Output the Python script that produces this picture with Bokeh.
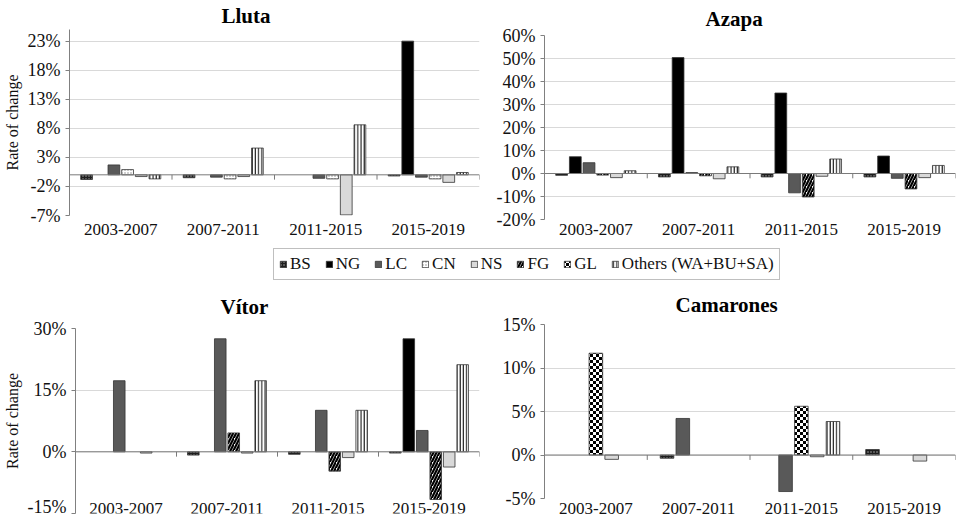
import base64
from bokeh.plotting import figure
from bokeh.layouts import column, row
from bokeh.models import (Range1d, FixedTicker, PrintfTickFormatter, Span,
                          Legend, LegendItem, ColumnDataSource, ImageURLTexture)
from bokeh.transform import dodge
from bokeh.core.properties import value
from bokeh.embed import file_html
from bokeh.resources import INLINE

# ---------------- data (rate of change, %) ----------------
periods = ["2003-2007", "2007-2011", "2011-2015", "2015-2019"]

legend_keys = ["BS", "NG", "LC", "CN", "NS", "FG", "GL", "Others"]
legend_labels = ["BS", "NG", "LC", "CN", "NS", "FG", "GL", "Others (WA+BU+SA)"]

# Lluta
lluta_series = ["BS", "NG", "LC", "CN", "NS", "Others"]
lluta_BS = [-0.8, -0.5, 0.0, -0.2]
lluta_NG = [0.0, 0.0, 0.0, 23.0]
lluta_LC = [1.7, -0.4, -0.6, -0.4]
lluta_CN = [0.9, -0.7, -0.7, -0.7]
lluta_NS = [-0.3, -0.3, -6.9, -1.3]
lluta_Others = [-0.7, 4.6, 8.6, 0.4]
lluta_ticks = [-7, -2, 3, 8, 13, 18, 23]
lluta_range = (-7, 25)

# Azapa
azapa_series = ["BS", "NG", "LC", "FG", "NS", "Others"]
azapa_BS = [-0.8, -1.5, -1.5, -1.5]
azapa_NG = [7.3, 50.4, 35.0, 7.6]
azapa_LC = [4.7, 0.4, -8.4, -2.1]
azapa_FG = [-0.7, -1.0, -10.2, -6.7]
azapa_NS = [-1.8, -2.3, -1.2, -1.8]
azapa_Others = [1.2, 2.9, 6.3, 3.5]
azapa_ticks = [-20, -10, 0, 10, 20, 30, 40, 50, 60]
azapa_range = (-20, 60)

# Vítor
vitor_series = ["BS", "NG", "LC", "FG", "NS", "Others"]
vitor_BS = [0.0, -0.8, -0.6, -0.3]
vitor_NG = [0.0, 0.0, 0.0, 27.5]
vitor_LC = [17.3, 27.5, 10.1, 5.2]
vitor_FG = [0.0, 4.6, -4.7, -11.6]
vitor_NS = [-0.3, -0.3, -1.4, -3.7]
vitor_Others = [0.0, 17.3, 10.1, 21.2]
vitor_ticks = [-15, 0, 15, 30]
vitor_range = (-15, 30)

# Camarones
cama_series = ["BS", "LC", "GL", "NS", "Others"]
cama_BS = [0.0, -0.37, 0.0, 0.63]
cama_LC = [0.0, 4.2, -4.2, 0.0]
cama_GL = [11.7, 0.0, 5.6, 0.0]
cama_NS = [-0.5, 0.0, -0.2, -0.7]
cama_Others = [0.0, 0.0, 3.85, 0.0]
cama_ticks = [-5, 0, 5, 10, 15]
cama_range = (-5, 15)

# ---------------- styles ----------------
SERIF = "Liberation Serif"

_checker_svg = ("<svg xmlns='http://www.w3.org/2000/svg' width='6' height='6' shape-rendering='crispEdges'>"
                "<rect width='6' height='6' fill='#ffffff'/>"
                "<rect width='3' height='3' fill='#000000'/>"
                "<rect x='3' y='3' width='3' height='3' fill='#000000'/></svg>")
checker = ImageURLTexture(url="data:image/svg+xml;base64," +
                          base64.b64encode(_checker_svg.encode()).decode())

STYLE = {
    "BS": dict(fill_color="#1e1e1e", hatch_pattern="dot", hatch_color="#b0b0b0", hatch_scale=3, hatch_weight=0.8),
    "NG": dict(fill_color="#000000"),
    "LC": dict(fill_color="#595959"),
    "CN": dict(fill_color="#ffffff", hatch_pattern="dot", hatch_color="#8a8a8a", hatch_scale=3, hatch_weight=1),
    "NS": dict(fill_color="#d9d9d9"),
    "FG": dict(fill_color="#ffffff", hatch_pattern="right_diagonal_line", hatch_color="#000000",
               hatch_scale=6, hatch_weight=2.2),
    "GL": dict(fill_color="#ffffff", hatch_pattern=value("checker"), hatch_extra={"checker": checker},
               hatch_color="#000000", hatch_scale=6),
    "Others": dict(fill_color="#ffffff", hatch_pattern="vertical_line", hatch_color="#000000",
                   hatch_scale=3.2, hatch_weight=1),
}
OUTLINE = dict(line_color="#333333", line_width=0.8)
AXIS_GREY = "#7a7a7a"

group_x = list(range(len(periods)))                       # group centres
group_edges = [g - 0.5 for g in group_x] + [group_x[-1] + 0.5]


def make_panel(title, names, values, yrange, yticks, w, h, mb_bottom, mb_right,
               title_offset, title_standoff, label_standoff, frame_h, ylabel=None,
               labels_inside=False):
    p = figure(width=w, height=h, x_range=Range1d(group_edges[0], group_edges[-1]),
               y_range=Range1d(*yrange),
               output_backend="svg", toolbar_location=None, tools="",
               min_border_left=62, min_border_top=0, min_border_bottom=mb_bottom,
               min_border_right=mb_right, outline_line_color=None, background_fill_color="white")
    n = len(names)
    slot = 1.0 / (n + 1.5)
    for i, (nm, vals) in enumerate(zip(names, values)):
        keep = [(g, v) for g, v in zip(group_x, vals) if v != 0]
        src = ColumnDataSource(dict(gx=[g for g, _ in keep], val=[v for _, v in keep]))
        off = (i - (n - 1) / 2) * slot
        p.vbar(x=dodge("gx", off), top="val", bottom=0, width=slot * 0.86,
               source=src, **OUTLINE, **STYLE[nm])

    # horizontal axis through zero with short ticks between the periods
    p.add_layout(Span(location=0, dimension="width", line_color=AXIS_GREY, line_width=1))
    tick = 5.0 * (yrange[1] - yrange[0]) / frame_h
    p.segment(x0=group_edges, x1=group_edges, y0=[0] * len(group_edges),
              y1=[-tick] * len(group_edges), line_color=AXIS_GREY, line_width=1)

    # title
    p.title.text = title
    p.title.text_font = SERIF
    p.title.text_font_style = "bold"
    p.title.text_font_size = "21px"
    p.title.text_color = "#000000"
    p.title.align = "left"
    p.title.offset = title_offset
    p.title.standoff = title_standoff

    # period labels
    xa = p.xaxis[0]
    xa.axis_label = None
    xa.ticker = FixedTicker(ticks=group_x)
    xa.major_label_overrides = {g: lab for g, lab in zip(group_x, periods)}
    xa.axis_line_color = None
    xa.major_tick_line_color = None
    xa.minor_tick_line_color = None
    xa.major_tick_in = 0
    xa.major_tick_out = 0
    xa.minor_tick_in = 0
    xa.minor_tick_out = 0
    xa.major_label_text_font = SERIF
    xa.major_label_text_font_size = "17px"
    xa.major_label_text_color = "#111111"
    xa.major_label_standoff = label_standoff
    if labels_inside:
        # the period labels sit on the bottom edge of the plot area, as in the original
        xa.visible = False
        lab_src = ColumnDataSource(dict(gx=group_x, gy=[yrange[0]] * len(group_x), t=periods))
        p.text(x="gx", y="gy", text="t", source=lab_src, text_font=value(SERIF),
               text_font_size=value("17px"), text_color="#111111", text_align="center",
               text_baseline="bottom")

    # y axis
    ya = p.yaxis[0]
    ya.ticker = FixedTicker(ticks=yticks)
    ya.formatter = PrintfTickFormatter(format="%d%%")
    ya.major_label_text_font = SERIF
    ya.major_label_text_font_size = "18px"
    ya.major_label_text_color = "#111111"
    ya.major_label_standoff = 5
    ya.axis_line_color = "#808080"
    ya.major_tick_line_color = "#808080"
    ya.major_tick_in = 0
    ya.major_tick_out = 4
    ya.minor_tick_line_color = None
    if ylabel:
        ya.axis_label = ylabel
        ya.axis_label_text_font = SERIF
        ya.axis_label_text_font_size = "16px"
        ya.axis_label_text_font_style = "normal"
        ya.axis_label_text_color = "#111111"
        ya.axis_label_standoff = 4
    else:
        ya.axis_label = None

    p.xgrid.visible = False
    p.ygrid.grid_line_color = "#d9d9d9"
    p.ygrid.grid_line_width = 1
    return p


p1 = make_panel("Lluta", lluta_series,
                [lluta_BS, lluta_NG, lluta_LC, lluta_CN, lluta_NS, lluta_Others],
                lluta_range, lluta_ticks, 482, 246, 31, 3, 152, 3, 8, 193, ylabel="Rate of change")
p2 = make_panel("Azapa", azapa_series,
                [azapa_BS, azapa_NG, azapa_LC, azapa_FG, azapa_NS, azapa_Others],
                azapa_range, azapa_ticks, 474, 246, 27, 1, 161, 9, 4, 191)
p3 = make_panel("Vítor", vitor_series,
                [vitor_BS, vitor_NG, vitor_LC, vitor_FG, vitor_NS, vitor_Others],
                vitor_range, vitor_ticks, 482, 234, 3, 3, 145, 20, 0, 192, ylabel="Rate of change",
                labels_inside=True)
p4 = make_panel("Camarones", cama_series,
                [cama_BS, cama_LC, cama_GL, cama_NS, cama_Others],
                cama_range, cama_ticks, 474, 234, 0, 1, 131, 16, 4, 177)

# ---------------- shared legend ----------------
lg = figure(width=956, height=36, output_backend="svg", toolbar_location=None, tools="",
            x_range=Range1d(0, 1), y_range=Range1d(0, 1), x_axis_location=None, y_axis_location=None,
            min_border=0, outline_line_color=None)
lg.xgrid.visible = False
lg.ygrid.visible = False
items = []
for key, lab in zip(legend_keys, legend_labels):
    # glyph kept outside the visible range: only its legend swatch is shown
    r = lg.vbar(x=[10], top=[1], bottom=0, width=0.1, **OUTLINE, **STYLE[key])
    items.append(LegendItem(label=value(lab), renderers=[r]))
leg = Legend(items=items, orientation="horizontal", location=(273, 2),
             border_line_color="#7f7f7f", border_line_width=1, background_fill_color="white",
             padding=5, spacing=14, margin=0, glyph_width=8, glyph_height=8, label_standoff=3,
             label_text_font=SERIF, label_text_font_size="17px", label_text_color="#111111",
             label_height=20)
lg.add_layout(leg, "center")

layout = column(row(column(p1), column(p2)), lg, row(column(p3), column(p4)))

open("out.html", "w").write(file_html(layout, INLINE, title="Rate of change"))
